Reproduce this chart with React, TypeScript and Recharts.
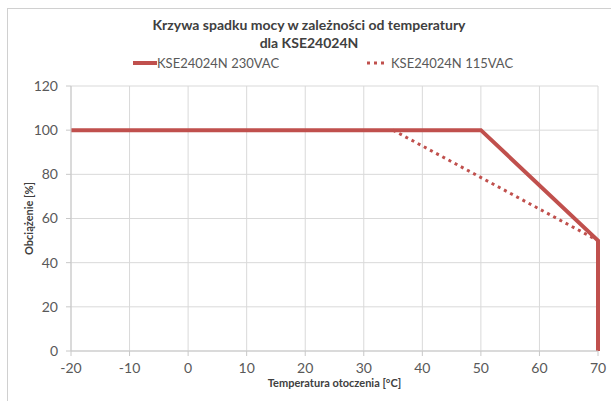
import React from 'react';
import { LineChart, Line, XAxis, YAxis, CartesianGrid, Legend } from 'recharts';

const series230 = [
  { t: -20, load: 100 },
  { t: 50, load: 100 },
  { t: 70, load: 50 },
  { t: 70, load: 0 },
];
const series115 = [
  { t: 35, load: 100 },
  { t: 70, load: 50 },
];
const xTicks = [-20, -10, 0, 10, 20, 30, 40, 50, 60, 70];
const yTicks = [0, 20, 40, 60, 80, 100, 120];
const titleLines = ['Krzywa spadku mocy w zależności od temperatury', 'dla KSE24024N'];
const legendItems = [
  { name: 'KSE24024N 230VAC', dashed: false },
  { name: 'KSE24024N 115VAC', dashed: true },
];

const RED = '#c0504d';
const TEXT = '#595959';
const FONT = 'Lato, "Open Sans", sans-serif';

const renderLegend = () => (
  <div style={{ display: 'flex', fontFamily: FONT, fontSize: 13, color: TEXT }}>
    <div style={{ position: 'absolute', left: 133, display: 'flex', alignItems: 'center' }}>
      <svg width={24} height={10}>
        <line x1={0} y1={5} x2={24} y2={5} stroke={RED} strokeWidth={4} />
      </svg>
      <span>{legendItems[0].name}</span>
    </div>
    <div style={{ position: 'absolute', left: 366, display: 'flex', alignItems: 'center' }}>
      <svg width={22} height={10} style={{ marginRight: 3 }}>
        <line x1={1} y1={5} x2={22} y2={5} stroke={RED} strokeWidth={3} strokeDasharray="3 4" />
      </svg>
      <span>{legendItems[1].name}</span>
    </div>
  </div>
);

export default function App() {
  return (
    <div style={{ position: 'fixed', left: 0, top: 0, width: 611, height: 401, background: '#fff', overflow: 'hidden' }}>
      <div style={{ position: 'absolute', left: 7, top: 8, width: 620, height: 410, borderTop: '1px solid #d0d0d0', borderLeft: '1px solid #d0d0d0' }} />
      <div style={{ position: 'absolute', left: 0, top: 16, width: 618, textAlign: 'center', fontFamily: FONT, fontWeight: 700, fontSize: 14, lineHeight: '18px', color: '#404040' }}>
        {titleLines.map((l) => (
          <div key={l}>{l}</div>
        ))}
      </div>
      <LineChart width={611} height={401} margin={{ top: 86, right: 13, bottom: 0, left: 0 }} style={{ position: 'absolute', left: 0, top: 0 }}>
        <CartesianGrid stroke="#d9d9d9" />
        <XAxis
          dataKey="t"
          type="number"
          domain={[-20, 70]}
          ticks={xTicks}
          height={50}
          allowDuplicatedCategory={false}
          stroke="#c8c8c8"
          tickSize={5}
          tickMargin={7}
          tick={{ fill: TEXT, fontSize: 14, fontFamily: FONT }}
          label={({ viewBox }: any) => (
            <text x={viewBox.x + viewBox.width / 2} y={viewBox.y + 36} textAnchor="middle" fill="#404040" fontSize={11} fontWeight={700} fontFamily={FONT}>
              Temperatura otoczenia [°C]
            </text>
          )}
        />
        <YAxis
          dataKey="load"
          type="number"
          domain={[0, 120]}
          ticks={yTicks}
          width={71}
          stroke="#c8c8c8"
          tickSize={5}
          tickMargin={8}
          tick={{ fill: TEXT, fontSize: 14, fontFamily: FONT }}
          label={({ viewBox }: any) => {
            const cx = 28;
            const cy = viewBox.y + viewBox.height / 2;
            return (
              <text x={cx} y={cy} textAnchor="middle" dominantBaseline="central" transform={`rotate(-90 ${cx} ${cy})`} fill="#404040" fontSize={11} fontWeight={700} fontFamily={FONT}>
                Obciążenie [%]
              </text>
            );
          }}
        />
        <Legend verticalAlign="top" wrapperStyle={{ top: 55, left: 0, width: 611 }} content={renderLegend} />
        <Line data={series230} dataKey="load" name={legendItems[0].name} stroke={RED} strokeWidth={4} dot={false} isAnimationActive={false} strokeLinejoin="miter" />
        <Line data={series115} dataKey="load" name={legendItems[1].name} stroke={RED} strokeWidth={3} strokeDasharray="3 4" dot={false} isAnimationActive={false} />
      </LineChart>
    </div>
  );
}
